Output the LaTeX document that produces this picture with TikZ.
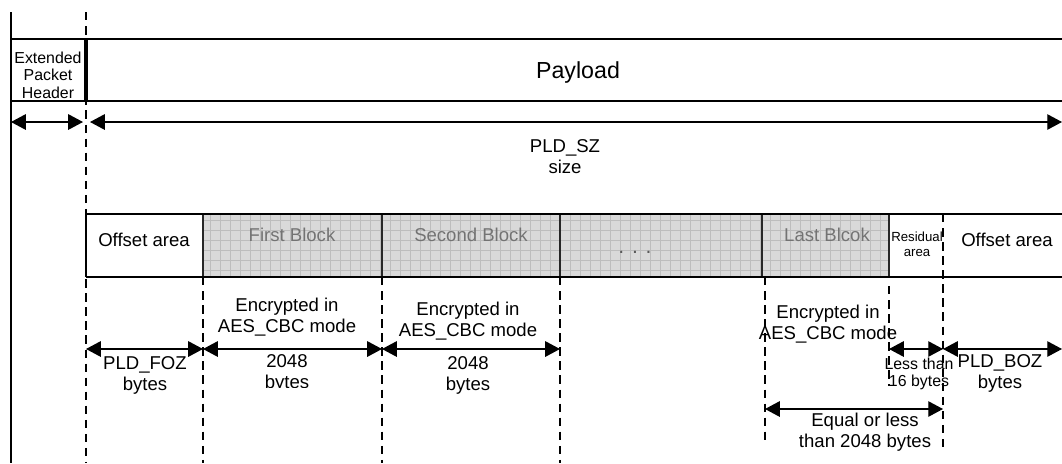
\documentclass[tikz,border=0pt]{standalone}
\usepackage{fontspec}
\setmainfont{Liberation Sans}
\usetikzlibrary{arrows.meta}

\tikzset{
  dimline/.style={line width=0.9pt,
    {Triangle[length=10.5pt,width=11pt]}-{Triangle[length=10.5pt,width=11pt]}},
  guide/.style={line width=1pt, dash pattern=on 6pt off 4pt},
  field/.style={draw, line width=1.1pt},
  blockfill/.style={fill=black!15},
  blockgrid/.style={draw=black!26, line width=0.4pt, step=0.25cm},
  blockedge/.style={draw=black!85, line width=1.4pt},
  note/.style={align=center, inner sep=0pt, font=\fontsize{13.2}{15}\selectfont},
  smallnote/.style={align=center, inner sep=0pt, font=\fontsize{11.3}{12.5}\selectfont},
  tinynote/.style={align=center, inner sep=0pt, font=\fontsize{9.4}{10.8}\selectfont},
  blocktext/.style={note, text=black!55},
}

\begin{document}
\begin{tikzpicture}[x=0.025cm, y=-0.025cm]
  \useasboundingbox (0,0) rectangle (1062,463);

  % Packet frame: header and payload
  \draw[line width=1pt] (11,12) -- (11,463);
  \draw[guide] (86,12) -- (86,463);
  \draw[field] (11,39) -- (1062,39) (11,101) -- (1062,101);
  \draw[line width=2.4pt] (86,39) -- (86,101);
  \node[smallnote] (hdr) at (48,75) {Extended\\Packet\\Header};
  \node[font=\fontsize{16.5}{18}\selectfont] (pay) at (578,72) {Payload};

  % Size of header and payload
  \coordinate (hdrL) at (11,122);
  \coordinate (hdrR) at (83,122);
  \coordinate (payL) at (90,122);
  \coordinate (payR) at (1062,122);
  \draw[dimline] (hdrL) -- (hdrR);
  \draw[dimline] (payL) -- (payR);
  \node[note] (sz) at (565,157) {PLD\_SZ\\size};

  % Encrypted blocks (grey grid)
  \foreach \l/\r in {203/382, 382/560, 560/762, 762/889} {
    \path[blockfill] (\l,214) rectangle (\r,277);
    \draw[blockgrid] (\l,214) grid (\r,277);
    \draw[blockedge] (\l,214) rectangle (\r,277);
  }

  % Payload layout
  \draw[field] (86,214) -- (1062,214) (86,277) -- (1062,277);
  \draw[field] (86,214) -- (86,277);
  \node[note] (offA) at (144,240) {Offset area};
  \node[blocktext] (blk1) at (292,235) {First Block};
  \node[blocktext] (blk2) at (471,235) {Second Block};
  \node[note, text=black!65, font=\fontsize{15}{15}\selectfont] (blkn) at (635,252) {. . .};
  \node[blocktext] (blkL) at (827,235) {Last Blcok};
  \node[tinynote] (res) at (917,244) {Residual\\area};
  \node[note] (offB) at (1007,240) {Offset area};

  % Boundaries carried down
  \draw[guide] (203,277) -- (203,463);
  \draw[guide] (382,277) -- (382,463);
  \draw[guide] (560,277) -- (560,463);
  \draw[guide] (765,277) -- (765,442);
  \draw[guide] (889,286) -- (889,386);
  \draw[guide] (943,214) -- (943,447);

  % Sizes of each part
  \coordinate (fozL) at (86,349);
  \coordinate (c1L) at (203,349);
  \coordinate (c2L) at (382,349);
  \coordinate (c2R) at (560,349);
  \coordinate (resL) at (889,349);
  \coordinate (bozL) at (943,349);
  \coordinate (bozR) at (1062,349);
  \coordinate (lastL) at (765,409);
  \coordinate (lastR) at (943,409);
  \draw[dimline] (fozL) -- (c1L);
  \draw[dimline] (c1L) -- (c2L);
  \draw[dimline] (c2L) -- (c2R);
  \draw[dimline] (resL) -- (bozL);
  \draw[dimline] (bozL) -- (bozR);
  \draw[dimline] (lastL) -- (lastR);

  % Labels of the parts
  \node[note] (foz) at (145,375) {PLD\_FOZ\\bytes};
  \node[note] (enc1) at (287,317) {Encrypted in\\AES\_CBC mode};
  \begin{scope}
    \clip (203,340) rectangle (382,387);
    \node[note] (len1) at (287,373) {2048\\bytes};
  \end{scope}
  \node[note] (enc2) at (468,321) {Encrypted in\\AES\_CBC mode};
  \node[note] (len2) at (468,375) {2048\\bytes};
  \node[note] (encL) at (828,324) {Encrypted in\\AES\_CBC mode};
  \node[smallnote] (less) at (919,374) {Less than\\16 bytes};
  \node[note] (boz) at (1000,373) {PLD\_BOZ\\bytes};
  \node[note] (lenL) at (865,432) {Equal or less\\than 2048 bytes};

\end{tikzpicture}
\end{document}
